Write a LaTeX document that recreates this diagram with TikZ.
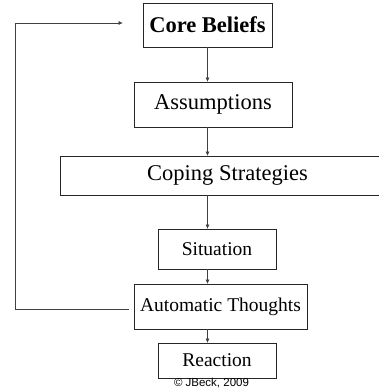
\documentclass[tikz,border=0pt]{standalone}
\usepackage{fontspec}
\setmainfont{Liberation Serif}
\newfontfamily\arialfont{Liberation Sans}
\usetikzlibrary{arrows.meta}

\begin{document}
\begin{tikzpicture}[x=1pt,y=1pt,
        box/.style={draw=black!85, line width=0.8pt, inner sep=0pt, align=center},
        big/.style={font=\fontsize{22.5}{27}\selectfont},
        small/.style={font=\fontsize{19.5}{23}\selectfont},
        arr/.style={draw=black!75, line width=0.7pt, -{Triangle[length=4pt,width=3.5pt]}}]
        \useasboundingbox (0,0) rectangle (379,388);

        % boxes
        \node[box,big,minimum width=129,minimum height=44] (core) at (207.5,363) {\textbf{Core Beliefs}};
        \node[box,big,minimum width=158,minimum height=45] (assum) at (213,283.5) {Assumptions};
        \node[box,big,minimum width=335,minimum height=39] (coping) at (227.5,212.5) {Coping Strategies};
        \node[box,small,minimum width=118,minimum height=40] (situ) at (217,139) {Situation};
        \node[box,small,minimum width=173,minimum height=45] (auto) at (220.5,81.5) {Automatic Thoughts};
        \node[box,small,minimum width=118,minimum height=35] (react) at (217,27.5) {Reaction};
        \node[inner sep=0pt,font=\arialfont\fontsize{11.5}{13}\selectfont] (copy) at (211.5,5) {\textcopyright{} JBeck, 2009};

        % arrows down the middle
        \draw[arr] (core.south) -- (core.south |- assum.north);
        \draw[arr] (core.south |- assum.south) -- (core.south |- coping.north);
        \draw[arr] (core.south |- coping.south) -- (core.south |- situ.north);
        \draw[arr] (core.south |- situ.south) -- (core.south |- auto.north);
        \draw[arr] (core.south |- auto.south) -- (core.south |- react.north);

        % feedback
        \coordinate (fbstart) at ([xshift=-5pt,yshift=-2.5pt]auto.west);
        \coordinate (fbend) at ([xshift=-20pt,yshift=2pt]core.west);
        \draw[arr] (fbstart) -- (15,0 |- fbstart) |- (fbend);
\end{tikzpicture}
\end{document}
